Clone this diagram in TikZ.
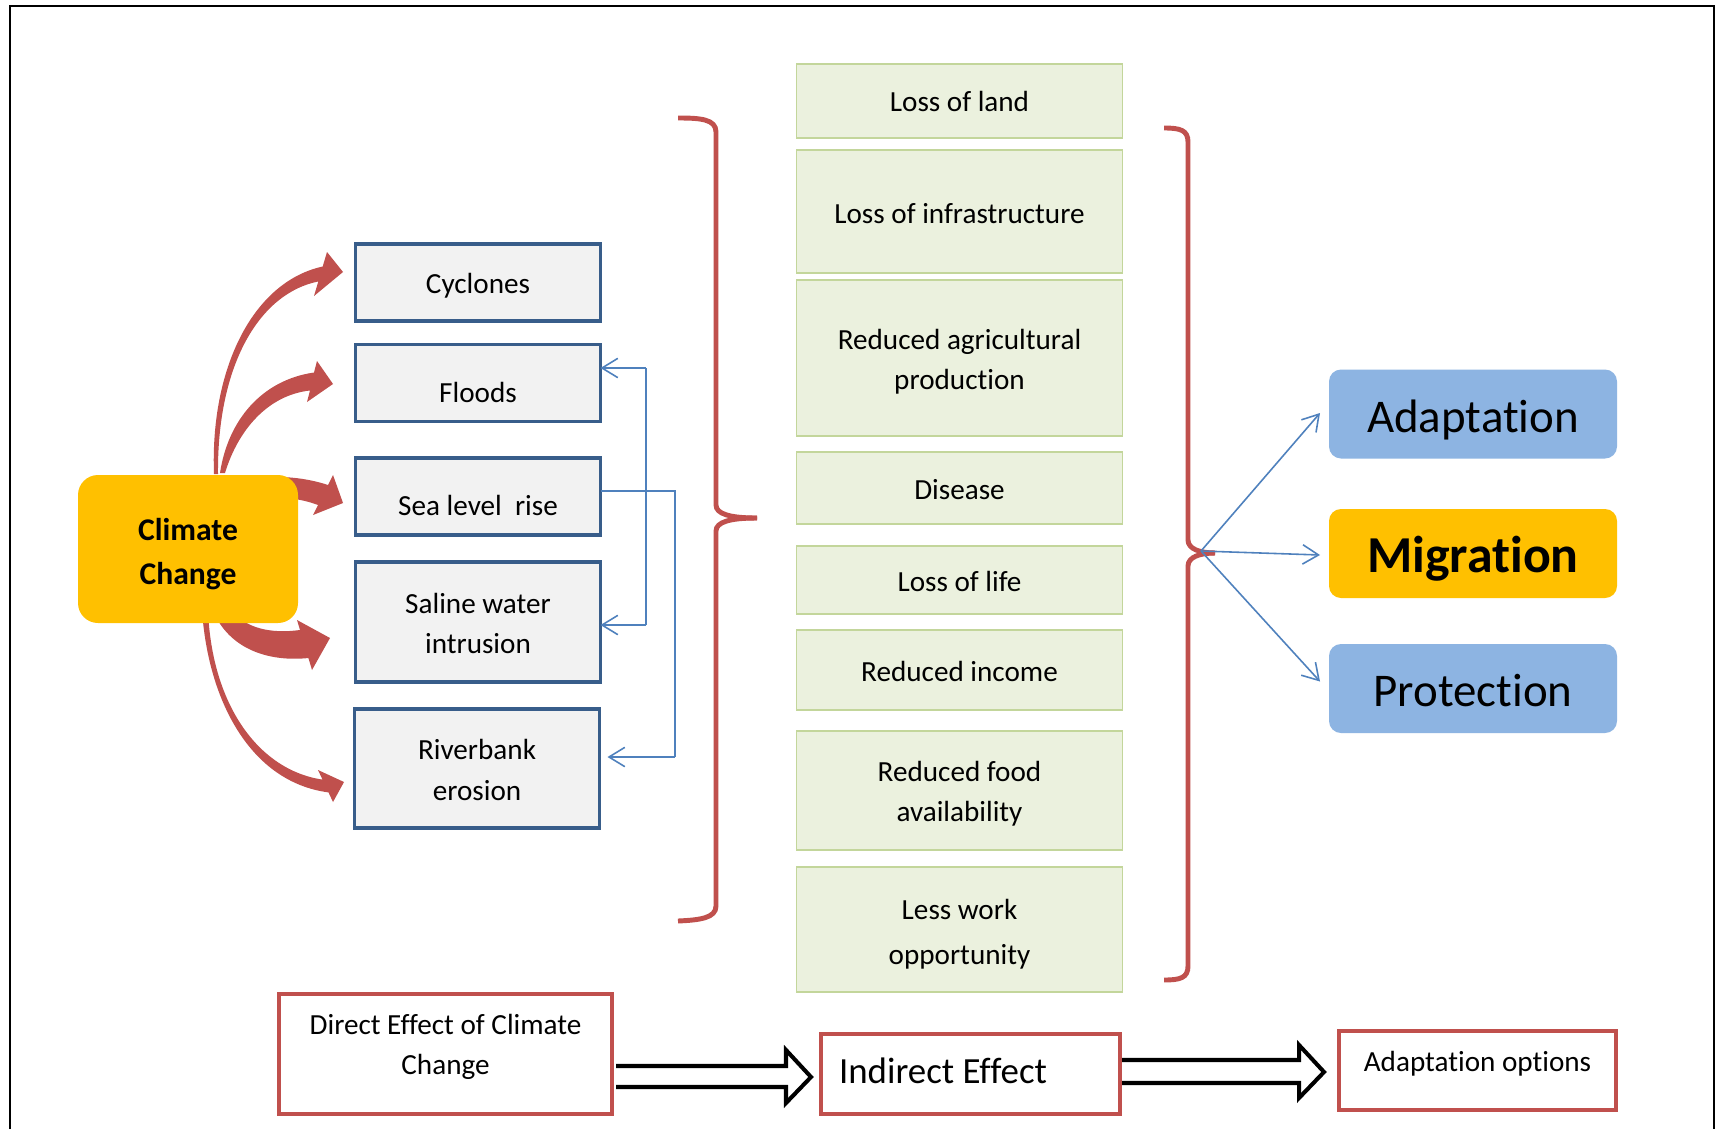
\documentclass[tikz,border=0pt]{standalone}
\usepackage{fontspec}
\setmainfont{Carlito}[Ligatures=NoCommon]
\usetikzlibrary{arrows.meta,calc}
\definecolor{redc}{HTML}{C0504D}
\definecolor{bluec}{HTML}{4F81BD}
\definecolor{boxblue}{HTML}{385D8A}
\definecolor{boxgray}{HTML}{F2F2F2}
\definecolor{grfill}{HTML}{EBF1DE}
\definecolor{grline}{HTML}{C3D69B}
\definecolor{orangec}{HTML}{FFC000}
\definecolor{lblue}{HTML}{8DB4E2}
\newcommand{\fnorm}{\fontsize{16.6}{23}\selectfont}
\begin{document}
\begin{tikzpicture}[x=0.02cm,y=-0.02cm,
  every node/.style={inner sep=0pt, outer sep=0pt, align=center, font=\fnorm},
  hh/.style={minimum height=#1*0.02cm},
  lbox/.style={draw=boxblue, fill=boxgray, line width=2pt, minimum width=245*0.02cm},
  gbox/.style={draw=grline, fill=grfill, line width=0.7pt, minimum width=326*0.02cm},
  rbox/.style={rounded corners=0.24cm, minimum width=288*0.02cm, minimum height=89*0.02cm},
  obox/.style={draw=redc, fill=white, line width=2.5pt},
  bl/.style={draw=bluec, line width=0.9pt},
  bla/.style={bl, -{Straight Barb[length=9pt,width=11pt]}},
  brace/.style={draw=redc, line width=2.8pt},
  hollow/.style={draw=black, fill=white, line width=2.3pt, line join=miter},
  bigfont/.style={font=\fontsize{26.7}{30}\selectfont},
]
\useasboundingbox (0,0) rectangle (1719,1129);
\fill[white] (0,0) rectangle (1719,1129);
% outer frame
\draw[line width=1.4pt] (10,1129) -- (10,6) -- (1714,6) -- (1714,1129);

% red curved arrows
\fill[redc] (214,474) .. controls (210,370) and (252,282) .. (322.7,266.5) -- (327,252) -- (343,272) -- (314,296) -- (318.3,281.5) .. controls (260,293) and (217,364) .. (218,474) -- cycle;
\fill[redc] (220,473) .. controls (228,420) and (262,380) .. (314,372.5) -- (317,361) -- (333,384) -- (307,402) -- (310,390.5) .. controls (268,395) and (238,430) .. (225,473) -- cycle;
\fill[redc] (260,478) .. controls (285,475) and (310,479) .. (328,485) -- (333,475) -- (343,503) -- (313,515) -- (318,505) .. controls (305,500) and (285,496) .. (260,497) -- cycle;
\fill[redc] (232,610) .. controls (245,628) and (270,634) .. (300,630) -- (297,620) -- (330,638) -- (312,670) -- (308.4,658) .. controls (270,662) and (232,650) .. (215,615) -- cycle;
\fill[redc] (202,610) .. controls (208,700) and (250,782) .. (328.5,792.4) -- (333,802) -- (344,782) -- (318,770) -- (322.5,779.6) .. controls (258,770) and (211.6,704) .. (208,610) -- cycle;

% climate change
\node[fill=orangec, rounded corners=0.4cm, minimum width=220*0.02cm, hh=148] (cc) at (188,549) {};
\node[font=\fontsize{18}{25}\selectfont\bfseries] (cctxt) at ($(cc)+(0,5.5)$) {Climate\\Change};

% direct effects
\node[lbox, hh=77] (cyc) at (478,282.5) {};
\node (cyctxt) at ($(cyc)+(0,3.3)$) {Cyclones};
\node[lbox, hh=77] (flo) at (478,383) {};
\node (flotxt) at (478,392.5) {Floods};
\node[lbox, hh=77] (sea) at (478,496.5) {};
\node (seatxt) at (478,505) {Sea level\ \ rise};
\node[lbox, hh=120] (sal) at (478,622) {};
\node (saltxt) at ($(sal)+(0,1.6)$) {Saline water\\intrusion};
\node[lbox, hh=119] (riv) at (477,768.5) {};
\node (rivtxt) at ($(riv)+(0,1.6)$) {Riverbank\\erosion};

% blue connectors (left)
\coordinate (b1) at (646,368);
\coordinate (b2) at (646,625);
\coordinate (c1) at (675,491);
\coordinate (c2) at (675,757);
\draw[bl] (b1) -- (b2);
\draw[bla] (b1) -- (flo.east |- b1);
\draw[bla] (b2) -- (sal.east |- b2);
\draw[bl] (sea.east |- c1) -- (c1) -- (c2);
\draw[bla] (c2) -- ($(riv.east |- c2)+(8,0)$);

% braces
\draw[brace] (678,118) .. controls (700,118) and (716,119) .. (716,132) -- (716,505) .. controls (716,514) and (730,518) .. (757,518);
\draw[brace] (757,518) .. controls (730,518) and (716,522) .. (716,531) -- (716,906) .. controls (716,918) and (700,920) .. (678,921);
\draw[brace] (1164,128) .. controls (1180,128) and (1188,130) .. (1188,142) -- (1188,540) .. controls (1188,549) and (1200,553) .. (1215,553);
\draw[brace] (1215,553) .. controls (1200,553) and (1188,557) .. (1188,566) -- (1188,966) .. controls (1188,978) and (1180,980) .. (1164,980);

% indirect effects
\node[gbox, hh=74] (land) at (959.5,101) {Loss of land};
\node[gbox, hh=123] (infra) at (959.5,211.5) {};
\node (infratxt) at ($(infra)+(0,2)$) {Loss of infrastructure};
\node[gbox, hh=156] (agri) at (959.5,358) {};
\node (agritxt) at ($(agri)+(0,4)$) {Reduced agricultural\\production};
\node[gbox, hh=72] (dis) at (959.5,488) {};
\node (distxt) at ($(dis)+(0,2)$) {Disease};
\node[gbox, hh=68] (life) at (959.5,580) {};
\node (lifetxt) at ($(life)+(0,1)$) {Loss of life};
\node[gbox, hh=80] (inc) at (959.5,670) {};
\node (inctxt) at ($(inc)+(0,1)$) {Reduced income};
\node[gbox, hh=119] (food) at (959.5,790.5) {};
\node (foodtxt) at ($(food)+(0,3.3)$) {Reduced food\\availability};
\node[gbox, hh=125] (work) at (959.5,929.5) {};
\node[font=\fontsize{16.6}{25.5}\selectfont] (worktxt) at ($(work)+(0,4.4)$) {Less work\\opportunity};

% options
\node[rbox, fill=lblue] (adapt) at (1473,414) {};
\node[bigfont] (adapttxt) at ($(adapt)+(0,5.5)$) {Adaptation};
\node[rbox, fill=orangec] (migr) at (1473,553.5) {};
\node[font=\fontsize{29.5}{32}\selectfont\bfseries] (migrtxt) at ($(migr)+(0,5.5)$) {Migration};
\node[rbox, fill=lblue] (prot) at (1473,688.5) {};
\node[bigfont] (prottxt) at ($(prot)+(0,2.2)$) {Protection};

\coordinate (rb) at (1201,551);
\draw[bla] (rb) -- ($(adapt.west)+(-9,-1)$);
\draw[bla] (rb) -- ($(migr.west)+(-9,1.5)$);
\draw[bla] (rb) -- ($(prot.west)+(-9,-7)$);

% legend arrows
\draw[hollow] (616,1066) -- (786,1066) -- (786,1050) -- (811,1077) -- (786,1103) -- (786,1087) -- (616,1087);
\draw[hollow] (1120,1060) -- (1299,1060) -- (1299,1045) -- (1324,1072) -- (1299,1098) -- (1299,1083) -- (1120,1083);

% legend boxes
\node[obox, minimum width=333*0.02cm, hh=120] (direct) at (445.5,1054) {};
\node (directtxt) at (445.5,1047) {Direct Effect of Climate\\Change};
\node[obox, minimum width=299*0.02cm, hh=80] (indirect) at (970.5,1074) {};
\node[anchor=west, font=\fontsize{21}{25}\selectfont] (indtxt) at (839,1071) {Indirect Effect};
\node[obox, minimum width=277*0.02cm, hh=79] (adopt) at (1477.5,1070.5) {};
\node (adopttxt) at (1477.5,1064) {Adaptation options};
\end{tikzpicture}
\end{document}
